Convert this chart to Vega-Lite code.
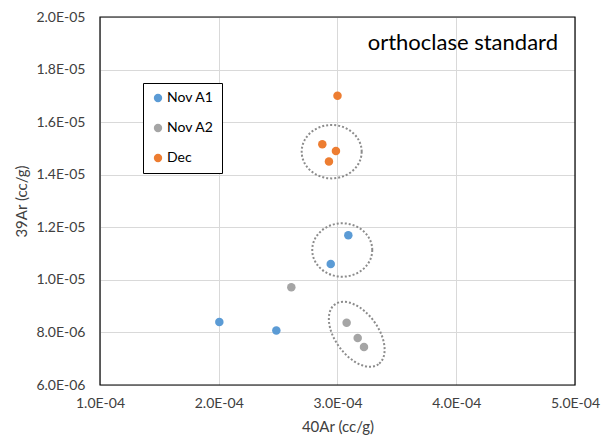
{
  "$schema": "https://vega.github.io/schema/vega-lite/v6.json",
  "width": 475,
  "height": 368,
  "autosize": "none",
  "padding": {"left": 100, "top": 17, "right": 29, "bottom": 54},
  "background": "white",
  "layer": [
    {
      "data": {"values": [
        {"group": "Nov A1", "x": 3.040e-4, "y": 1.1136e-5},
        {"group": "Dec", "x": 2.951e-4, "y": 1.4876e-5}
      ]},
      "mark": {
        "type": "point",
        "shape": "M1,0C1,0.4915,0.5523,0.89,0,0.89C-0.5523,0.89,-1,0.4915,-1,0C-1,-0.4915,-0.5523,-0.89,0,-0.89C0.5523,-0.89,1,-0.4915,1,0Z",
        "size": 3600,
        "filled": false,
        "stroke": "#8C8C8C",
        "strokeWidth": 2,
        "strokeDash": [2, 2],
        "opacity": 1
      },
      "encoding": {
        "x": {"field": "x", "type": "quantitative"},
        "y": {"field": "y", "type": "quantitative"}
      }
    },
    {
      "data": {"values": [
        {"group": "Nov A2", "x": 3.162e-4, "y": 7.93e-6}
      ]},
      "mark": {
        "type": "point",
        "shape": "M1,0C1,0.322,0.5523,0.583,0,0.583C-0.5523,0.583,-1,0.322,-1,0C-1,-0.322,-0.5523,-0.583,0,-0.583C0.5523,-0.583,1,-0.322,1,0Z",
        "size": 5476,
        "angle": 54,
        "filled": false,
        "stroke": "#8C8C8C",
        "strokeWidth": 2,
        "strokeDash": [2, 2],
        "opacity": 1
      },
      "encoding": {
        "x": {"field": "x", "type": "quantitative"},
        "y": {"field": "y", "type": "quantitative"}
      }
    },
    {
      "data": {"values": [
        {"series": "Nov A1", "ar40": 2.005e-4, "ar39": 8.40e-6},
        {"series": "Nov A1", "ar40": 2.485e-4, "ar39": 8.07e-6},
        {"series": "Nov A1", "ar40": 2.943e-4, "ar39": 1.060e-5},
        {"series": "Nov A1", "ar40": 3.091e-4, "ar39": 1.170e-5},
        {"series": "Nov A2", "ar40": 2.611e-4, "ar39": 9.72e-6},
        {"series": "Nov A2", "ar40": 3.077e-4, "ar39": 8.37e-6},
        {"series": "Nov A2", "ar40": 3.170e-4, "ar39": 7.79e-6},
        {"series": "Nov A2", "ar40": 3.223e-4, "ar39": 7.45e-6},
        {"series": "Dec", "ar40": 2.872e-4, "ar39": 1.516e-5},
        {"series": "Dec", "ar40": 2.987e-4, "ar39": 1.490e-5},
        {"series": "Dec", "ar40": 2.928e-4, "ar39": 1.450e-5},
        {"series": "Dec", "ar40": 3.000e-4, "ar39": 1.700e-5}
      ]},
      "mark": {"type": "circle", "size": 72, "opacity": 1},
      "encoding": {
        "x": {
          "field": "ar40",
          "type": "quantitative",
          "title": "40Ar (cc/g)",
          "scale": {"domain": [1e-4, 5e-4], "nice": false, "zero": false},
          "axis": {
            "values": [1e-4, 2e-4, 3e-4, 4e-4, 5e-4],
            "labelExpr": "replace(format(datum.value, '.1e'), 'e-', 'E-0')",
            "grid": true,
            "gridColor": "#D9D9D9",
            "gridWidth": 1,
            "ticks": false,
            "domain": false,
            "labelPadding": 11,
            "labelFont": "Lato",
            "labelFontSize": 14,
            "labelColor": "#404040",
            "labelFlush": false,
            "titleFont": "Lato",
            "titleFontSize": 15,
            "titleFontWeight": "normal",
            "titleColor": "#404040",
            "titlePadding": 9
          }
        },
        "y": {
          "field": "ar39",
          "type": "quantitative",
          "title": "39Ar (cc/g)",
          "scale": {"domain": [6e-6, 2e-5], "nice": false, "zero": false},
          "axis": {
            "values": [6e-6, 8e-6, 1e-5, 1.2e-5, 1.4e-5, 1.6e-5, 1.8e-5, 2e-5],
            "labelExpr": "replace(format(datum.value, '.1e'), 'e-', 'E-0')",
            "grid": true,
            "gridColor": "#D9D9D9",
            "gridWidth": 1,
            "ticks": false,
            "domain": false,
            "labelPadding": 15,
            "labelFont": "Lato",
            "labelFontSize": 14,
            "labelColor": "#404040",
            "labelFlush": false,
            "titleFont": "Lato",
            "titleFontSize": 15,
            "titleFontWeight": "normal",
            "titleColor": "#404040",
            "titlePadding": 6
          }
        },
        "color": {
          "field": "series",
          "type": "nominal",
          "scale": {
            "domain": ["Nov A1", "Nov A2", "Dec"],
            "range": ["#5B9BD5", "#A5A5A5", "#ED7D31"]
          },
          "legend": {
            "title": null,
            "orient": "none",
            "legendX": 43,
            "legendY": 66,
            "strokeColor": "#000000",
            "fillColor": "#FFFFFF",
            "padding": 8,
            "rowPadding": 16,
            "symbolType": "circle",
            "symbolSize": 70,
            "symbolStrokeWidth": 0,
            "labelFont": "Lato",
            "labelFontSize": 14,
            "labelColor": "#000000",
            "labelOffset": 2
          }
        }
      }
    },
    {
      "data": {"values": [{}]},
      "mark": {"type": "rect", "filled": false, "stroke": "#000000", "strokeWidth": 1.2},
      "encoding": {
        "x": {"datum": 1e-4, "type": "quantitative"},
        "x2": {"datum": 5e-4},
        "y": {"datum": 6e-6, "type": "quantitative"},
        "y2": {"datum": 2e-5}
      }
    },
    {
      "data": {"values": [{"label": "orthoclase standard"}]},
      "mark": {
        "type": "text",
        "align": "right",
        "baseline": "alphabetic",
        "dx": -17,
        "dy": 33,
        "font": "Lato",
        "fontSize": 22,
        "color": "#000000"
      },
      "encoding": {
        "text": {"field": "label"},
        "x": {"datum": 5e-4, "type": "quantitative"},
        "y": {"datum": 2e-5, "type": "quantitative"}
      }
    }
  ],
  "config": {
    "view": {"stroke": null}
  }
}
